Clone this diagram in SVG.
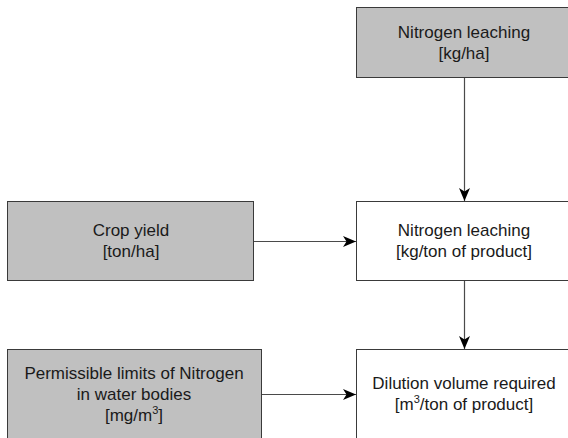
<svg xmlns="http://www.w3.org/2000/svg" width="568" height="438" viewBox="0 0 568 438">
  <style>
    .box { stroke: #3a3a3a; stroke-width: 1; }
    .input { fill: #c0c0c0; }
    .calc { fill: #ffffff; }
    text { font-family: "Liberation Sans", Arial, sans-serif; font-size: 17px; fill: #1a1a1a; text-anchor: middle; }
    .sup { font-size: 11px; }
    .conn { stroke: #4a4a4a; stroke-width: 1.2; fill: none; marker-end: url(#arrow); }
  </style>
  <defs>
    <marker id="arrow" viewBox="0 0 13 11" refX="13" refY="5.5" markerWidth="13" markerHeight="11" markerUnits="userSpaceOnUse" orient="auto">
      <path d="M0,0 L13,5.5 L0,11 L3.5,5.5 Z" fill="#000"/>
    </marker>
  </defs>
  <rect width="568" height="438" fill="#ffffff"/>

  <g id="n-leach-ha">
    <rect class="box input" x="356.5" y="7.5" width="220" height="70"/>
    <text x="464" y="38">Nitrogen leaching</text>
    <text x="464" y="59">[kg/ha]</text>
  </g>

  <g id="n-crop-yield">
    <rect class="box input" x="7.5" y="201.5" width="246" height="79"/>
    <text x="131" y="236">Crop yield</text>
    <text x="131" y="257">[ton/ha]</text>
  </g>

  <g id="n-leach-ton">
    <rect class="box calc" x="356.5" y="201.5" width="220" height="79"/>
    <text x="464" y="236">Nitrogen leaching</text>
    <text x="464" y="257">[kg/ton of product]</text>
  </g>

  <g id="n-permissible">
    <rect class="box input" x="7.5" y="349.5" width="254" height="100"/>
    <text x="134" y="379">Permissible limits of Nitrogen</text>
    <text x="134" y="400">in water bodies</text>
    <text x="134" y="421">[mg/m<tspan class="sup" dy="-7">3</tspan><tspan dy="7">]</tspan></text>
  </g>

  <g id="n-dilution">
    <rect class="box calc" x="356.5" y="349.5" width="220" height="100"/>
    <text x="464" y="389">Dilution volume required</text>
    <text x="464" y="410">[m<tspan class="sup" dy="-7">3</tspan><tspan dy="7">/ton of product]</tspan></text>
  </g>

  <g id="connectors">
    <line class="conn" x1="464.5" y1="78" x2="464.5" y2="201"/>
    <line class="conn" x1="254" y1="241.5" x2="356" y2="241.5"/>
    <line class="conn" x1="464.5" y1="281" x2="464.5" y2="349"/>
    <line class="conn" x1="262" y1="394.5" x2="356" y2="394.5"/>
  </g>
</svg>
